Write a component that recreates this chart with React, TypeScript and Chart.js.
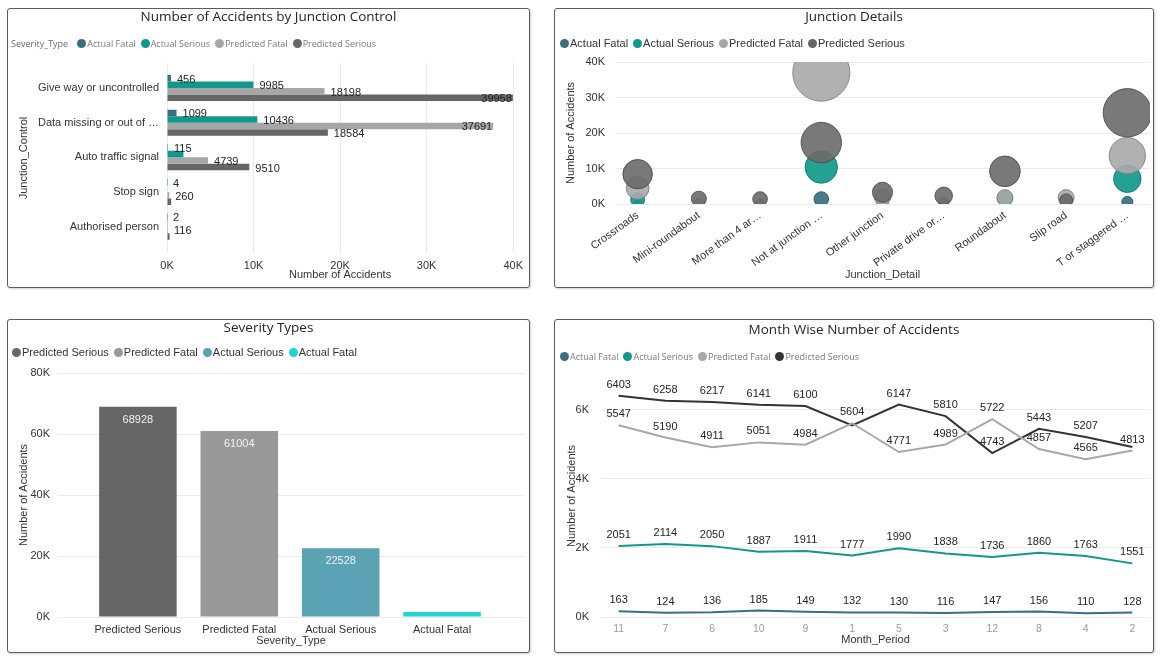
import React, { useEffect, useRef } from 'react';
import { Chart, registerables } from 'chart.js';

Chart.register(...registerables);

// ---------- shared ----------
const seriesNames = ['Actual Fatal', 'Actual Serious', 'Predicted Fatal', 'Predicted Serious'];

// ---------- chart 1 : Number of Accidents by Junction Control ----------
const junctionControls = [
  'Give way or uncontrolled',
  'Data missing or out of …',
  'Auto traffic signal',
  'Stop sign',
  'Authorised person',
];
const jcActualFatal = [456, 1099, 115, 4, 2];
const jcActualSerious = [9985, 10436, 1900, 60, 25];
const jcPredictedFatal = [18198, 37691, 4739, 260, 116];
const jcPredictedSerious = [39958, 18584, 9510, 480, 300];
const jcTicks = [0, 10000, 20000, 30000, 40000];

// ---------- chart 2 : Junction Details ----------
const junctionDetails = [
  'Crossroads',
  'Mini-roundabout',
  'More than 4 ar…',
  'Not at junction …',
  'Other junction',
  'Private drive or…',
  'Roundabout',
  'Slip road',
  'T or staggered …',
];
const jdActualFatal = [150, 40, 30, 1400, 80, 50, 100, 26, 600];
const jdActualSerious = [1200, 300, 200, 10400, 800, 400, 1600, 300, 7100];
const jdPredictedFatal = [4500, 300, 200, 37000, 1900, 300, 1800, 1800, 13600];
const jdPredictedSerious = [8400, 1500, 1400, 17300, 3300, 2300, 9200, 1000, 25700];
const jdTicks = [0, 10000, 20000, 30000, 40000];

// ---------- chart 3 : Severity Types ----------
const severityTypes = ['Predicted Serious', 'Predicted Fatal', 'Actual Serious', 'Actual Fatal'];
const severityTotals = [68928, 61004, 22528, 1676];
const sevTicks = [0, 20000, 40000, 60000, 80000];

// ---------- chart 4 : Month Wise Number of Accidents ----------
const months = ['11', '7', '6', '10', '9', '1', '5', '3', '12', '8', '4', '2'];
const mActualFatal = [163, 124, 136, 185, 149, 132, 130, 116, 147, 156, 110, 128];
const mActualSerious = [2051, 2114, 2050, 1887, 1911, 1777, 1990, 1838, 1736, 1860, 1763, 1551];
const mPredictedFatal = [5547, 5190, 4911, 5051, 4984, 5604, 4771, 4989, 5722, 4857, 4565, 4813];
const mPredictedSerious = [6403, 6258, 6217, 6141, 6100, 5540, 6147, 5810, 4743, 5443, 5207, 4919];
const monthTicks = [0, 2000, 4000, 6000];

// ---------- styles ----------
const FONT = '"Liberation Sans", Arial, sans-serif';
const TITLE_FONT = '"Open Sans", "Noto Sans", sans-serif';
const GRID = '#ebebeb';
const TEXT = '#333333';

const pal1 = ['#3b6f80', '#10998b', '#a6a6a6', '#666666'];
const pal2 = ['rgba(59,111,128,0.92)', 'rgba(16,153,139,0.92)', 'rgba(168,168,168,0.9)', 'rgba(106,106,106,0.9)'];
const pal2Border = ['rgba(40,80,95,0.8)', 'rgba(10,110,100,0.8)', 'rgba(120,120,120,0.8)', 'rgba(70,70,70,0.85)'];
const pal3 = ['#666666', '#999999', '#5aa2b4', '#22d3d0'];
const pal4 = ['#3b6e7e', '#15968a', '#a8a8a8', '#333333'];

const kFmt = (v: number) => `${v / 1000}K`;
const font11 = { family: FONT, size: 11 };

// bubble size grows with the square root of the value
const bubbleRadius = (v: number) => 2.2 + 0.137 * Math.sqrt(v);

// value labels drawn with overlap hiding (like Power BI)
function makeLabelPlugin(mode: 'hbar' | 'vbar' | 'line') {
  return {
    id: 'valueLabels_' + mode,
    afterDatasetsDraw(chart: any) {
      const ctx = chart.ctx;
      const area = chart.chartArea;
      const boxes: { l: number; r: number; t: number; b: number }[] = [];
      ctx.save();
      ctx.font = `11px ${FONT}`;
      ctx.textBaseline = 'middle';
      chart.data.datasets.forEach((ds: any, di: number) => {
        const meta = chart.getDatasetMeta(di);
        meta.data.forEach((el: any, i: number) => {
          const raw = ds.data[i];
          const v = mode === 'hbar' ? raw.x : raw.y;
          const text = String(v);
          const w = ctx.measureText(text).width;
          const h = 11;
          let x = 0;
          let y = 0;
          let align: CanvasTextAlign = 'left';
          let color = '#252423';
          let l = 0;
          if (mode === 'hbar') {
            y = el.y + 1.5;
            if (el.x + 6 + w > area.right) {
              align = 'right';
              x = el.x - 1;
              l = x - w;
            } else {
              align = 'left';
              x = el.x + 6;
              l = x;
            }
          } else if (mode === 'vbar') {
            if (el.base - el.y < 24) return;
            align = 'center';
            x = el.x;
            y = el.y + 13;
            l = x - w / 2;
            color = '#f2f2f2';
          } else {
            align = 'center';
            x = el.x;
            y = el.y - 11;
            l = x - w / 2;
          }
          const box = { l, r: l + w, t: y - h / 2, b: y + h / 2 };
          if (boxes.some((o) => box.l < o.r && box.r > o.l && box.t < o.b && box.b > o.t)) return;
          boxes.push(box);
          ctx.fillStyle = color;
          ctx.textAlign = align;
          ctx.fillText(text, x, y);
        });
      });
      ctx.restore();
    },
  };
}

// clip the bubbles to the plot area (Power BI cuts them at the axis lines)
const areaClipPlugin = {
  id: 'areaClip',
  beforeDatasetsDraw(chart: any) {
    const { ctx, chartArea } = chart;
    ctx.save();
    ctx.beginPath();
    ctx.rect(chartArea.left, chartArea.top, chartArea.right - chartArea.left, chartArea.bottom - chartArea.top);
    ctx.clip();
  },
  afterDatasetsDraw(chart: any) {
    chart.ctx.restore();
  },
};

const indexTicks = (labels: string[]) => (s: any) => {
  s.ticks = labels.map((_, i) => ({ value: i }));
};
const valueTicks = (vals: number[]) => (s: any) => {
  s.ticks = vals.map((v) => ({ value: v }));
};

const baseOptions = {
  animation: false,
  responsive: true,
  maintainAspectRatio: false,
  events: [],
};

// ---------- configs ----------
function configJunctionControl(): any {
  const series = [jcActualFatal, jcActualSerious, jcPredictedFatal, jcPredictedSerious];
  return {
    type: 'bar',
    data: {
      datasets: series.map((vals, si) => ({
        label: seriesNames[si],
        data: vals.map((v, i) => ({ x: v, y: i })),
        backgroundColor: pal1[si],
        categoryPercentage: 0.75,
        barPercentage: 1,
      })),
    },
    options: {
      ...baseOptions,
      indexAxis: 'y',
      layout: { autoPadding: false, padding: { left: 9, right: 12, top: 54, bottom: 5 } },
      plugins: { legend: { display: false }, tooltip: { enabled: false } },
      scales: {
        x: {
          type: 'linear',
          min: 0,
          max: 40000,
          afterBuildTicks: valueTicks(jcTicks),
          ticks: { callback: (v: number) => kFmt(v), font: font11, color: TEXT, padding: 6, maxRotation: 0 },
          grid: { color: GRID, drawTicks: false },
          border: { display: false },
          title: { display: true, text: 'Number of Accidents', font: font11, color: TEXT, padding: 0 },
          afterFit: (s: any) => {
            s.height = 29;
          },
        },
        y: {
          type: 'linear',
          reverse: true,
          offset: false,
          min: -0.72,
          max: 4.76,
          afterBuildTicks: indexTicks(junctionControls),
          ticks: { callback: (v: number) => junctionControls[v], font: font11, color: TEXT, padding: 8, autoSkip: false },
          grid: { display: false, drawTicks: false, offset: false },
          border: { display: false },
          title: { display: true, text: 'Junction_Control', font: font11, color: TEXT, padding: 0 },
          afterFit: (s: any) => {
            s.width = 150;
          },
        },
      },
    },
    plugins: [makeLabelPlugin('hbar')],
  };
}

function configJunctionDetail(): any {
  const series = [jdActualFatal, jdActualSerious, jdPredictedFatal, jdPredictedSerious];
  const order = [3, 2, 1, 0];
  return {
    type: 'bubble',
    data: {
      datasets: series.map((vals, si) => ({
        label: seriesNames[si],
        data: vals.map((v, i) => ({ x: i, y: v })),
        backgroundColor: pal2[si],
        borderColor: pal2Border[si],
        borderWidth: 1,
        radius: (c: any) => bubbleRadius(c.raw ? c.raw.y : 0),
        order: order[si],
        clip: 0,
      })),
    },
    options: {
      ...baseOptions,
      layout: { autoPadding: false, padding: { left: 9, right: 3, top: 53, bottom: 5 } },
      plugins: { legend: { display: false }, tooltip: { enabled: false } },
      scales: {
        x: {
          type: 'linear',
          offset: false,
          min: -0.37,
          max: 8.37,
          afterBuildTicks: indexTicks(junctionDetails),
          ticks: {
            callback: (v: number) => junctionDetails[v],
            font: font11,
            color: TEXT,
            padding: 5,
            autoSkip: false,
            minRotation: 36,
            maxRotation: 36,
          },
          grid: { display: false, drawTicks: false },
          border: { display: false },
          title: { display: true, text: 'Junction_Detail', font: font11, color: TEXT, padding: 0 },
          afterFit: (s: any) => {
            s.height = 78;
          },
        },
        y: {
          type: 'linear',
          min: 0,
          max: 40000,
          afterBuildTicks: valueTicks(jdTicks),
          ticks: { callback: (v: number) => kFmt(v), font: font11, color: TEXT, padding: 10 },
          grid: { color: GRID, drawTicks: false },
          border: { display: false },
          title: { display: true, text: 'Number of Accidents', font: font11, color: TEXT, padding: 0 },
          afterFit: (s: any) => {
            s.width = 51;
          },
        },
      },
    },
    plugins: [areaClipPlugin],
  };
}

function configSeverity(): any {
  return {
    type: 'bar',
    data: {
      datasets: [
        {
          label: 'Number of Accidents',
          data: severityTotals.map((v, i) => ({ x: i, y: v })),
          backgroundColor: pal3,
          categoryPercentage: 0.765,
          barPercentage: 1,
        },
      ],
    },
    options: {
      ...baseOptions,
      layout: { autoPadding: false, padding: { left: 9, right: 5, top: 53, bottom: 4 } },
      plugins: { legend: { display: false }, tooltip: { enabled: false } },
      scales: {
        x: {
          type: 'linear',
          offset: false,
          min: -0.788,
          max: 3.808,
          afterBuildTicks: indexTicks(severityTypes),
          ticks: { callback: (v: number) => severityTypes[v], font: font11, color: TEXT, padding: 6, autoSkip: false, maxRotation: 0 },
          grid: { display: false, drawTicks: false, offset: false },
          border: { display: false },
          title: { display: true, text: 'Severity_Type', font: font11, color: TEXT, padding: 0 },
          afterFit: (s: any) => {
            s.height = 31;
          },
        },
        y: {
          type: 'linear',
          min: 0,
          max: 80000,
          afterBuildTicks: valueTicks(sevTicks),
          ticks: { callback: (v: number) => kFmt(v), font: font11, color: TEXT, padding: 8 },
          grid: { color: GRID, drawTicks: false },
          border: { display: false },
          title: { display: true, text: 'Number of Accidents', font: font11, color: TEXT, padding: 0 },
          afterFit: (s: any) => {
            s.width = 41;
          },
        },
      },
    },
    plugins: [makeLabelPlugin('vbar')],
  };
}

function configMonths(): any {
  const series = [mActualFatal, mActualSerious, mPredictedFatal, mPredictedSerious];
  return {
    type: 'line',
    data: {
      datasets: series.map((vals, si) => ({
        label: seriesNames[si],
        data: vals.map((v, i) => ({ x: i, y: v })),
        borderColor: pal4[si],
        backgroundColor: pal4[si],
        borderWidth: 2,
        pointRadius: 0,
        tension: 0,
        fill: false,
      })),
    },
    options: {
      ...baseOptions,
      layout: { autoPadding: false, padding: { left: 10, right: 3, top: 55, bottom: 5 } },
      plugins: { legend: { display: false }, tooltip: { enabled: false } },
      scales: {
        x: {
          type: 'linear',
          offset: false,
          min: -0.378,
          max: 11.378,
          afterBuildTicks: indexTicks(months),
          ticks: { callback: (v: number) => months[v], font: { family: FONT, size: 10.5 }, color: '#9a9a9a', padding: 6, autoSkip: false, maxRotation: 0 },
          grid: { display: false, drawTicks: false },
          border: { display: false },
          title: { display: true, text: 'Month_Period', font: font11, color: TEXT, padding: 0 },
          afterFit: (s: any) => {
            s.height = 30;
          },
        },
        y: {
          type: 'linear',
          min: 0,
          max: 7000,
          afterBuildTicks: valueTicks(monthTicks),
          ticks: { callback: (v: number) => kFmt(v), font: font11, color: TEXT, padding: 12 },
          grid: { color: GRID, drawTicks: false },
          border: { display: false },
          title: { display: true, text: 'Number of Accidents', font: font11, color: TEXT, padding: 0 },
          afterFit: (s: any) => {
            s.width = 36;
          },
        },
      },
    },
    plugins: [makeLabelPlugin('line')],
  };
}

// ---------- components ----------
function ChartCanvas({ make }: { make: () => any }) {
  const ref = useRef<HTMLCanvasElement>(null);
  useEffect(() => {
    const chart = new Chart(ref.current as HTMLCanvasElement, make());
    return () => chart.destroy();
  }, []);
  return (
    <div style={{ position: 'absolute', left: 0, top: 0, right: 0, bottom: 0 }}>
      <canvas ref={ref} />
    </div>
  );
}

type LegendProps = {
  items: string[];
  colors: string[];
  prefix?: string;
  font: string;
  color: string;
  dot: number;
};

function Legend({ items, colors, prefix, font, color, dot }: LegendProps) {
  return (
    <div style={{ display: 'flex', alignItems: 'center', whiteSpace: 'nowrap', font, color, height: 16 }}>
      {prefix ? <span style={{ marginRight: 9, color: '#6a6a6a' }}>{prefix}</span> : null}
      {items.map((t, i) => (
        <span key={i} style={{ display: 'flex', alignItems: 'center', marginRight: 5 }}>
          <span
            style={{
              display: 'inline-block',
              width: dot,
              height: dot,
              borderRadius: '50%',
              background: colors[i],
              marginRight: 1,
            }}
          />
          {t}
        </span>
      ))}
    </div>
  );
}

type PanelProps = {
  x: number;
  y: number;
  w: number;
  h: number;
  title: string;
  titleY: number;
  legendX: number;
  legendY: number;
  legend: React.ReactNode;
  children: React.ReactNode;
};

function Panel({ x, y, w, h, title, titleY, legendX, legendY, legend, children }: PanelProps) {
  return (
    <div
      style={{
        position: 'absolute',
        left: x,
        top: y,
        width: w,
        height: h,
        boxSizing: 'border-box',
        border: '1px solid #5c5c5c',
        borderRadius: 3,
        boxShadow: '1px 1px 2px rgba(0,0,0,0.18)',
        background: '#ffffff',
      }}
    >
      {children}
      <div
        style={{
          position: 'absolute',
          left: 0,
          right: 0,
          top: titleY - y - 1 - 10,
          height: 20,
          lineHeight: '20px',
          textAlign: 'center',
          font: `13.5px ${TITLE_FONT}`,
          color: '#252423',
          whiteSpace: 'nowrap',
        }}
      >
        {title}
      </div>
      <div style={{ position: 'absolute', left: legendX - x - 1, top: legendY - y - 1 - 8 }}>{legend}</div>
    </div>
  );
}

export default function App() {
  const smallLegendFont = `9px ${TITLE_FONT}`;
  const darkLegendFont = `11px ${FONT}`;
  return (
    <div
      style={{
        position: 'fixed',
        left: 0,
        top: 0,
        width: 1162,
        height: 664,
        background: '#ffffff',
        overflow: 'hidden',
      }}
    >
      <Panel
        x={7}
        y={8}
        w={523}
        h={280}
        title="Number of Accidents by Junction Control"
        titleY={17}
        legendX={11}
        legendY={43}
        legend={
          <Legend
            prefix="Severity_Type"
            items={seriesNames}
            colors={pal1}
            font={smallLegendFont}
            color="#7a7a7a"
            dot={9}
          />
        }
      >
        <ChartCanvas make={configJunctionControl} />
      </Panel>

      <Panel
        x={554}
        y={8}
        w={600}
        h={280}
        title="Junction Details"
        titleY={17}
        legendX={560}
        legendY={43}
        legend={<Legend items={seriesNames} colors={pal1} font={darkLegendFont} color="#333333" dot={9} />}
      >
        <ChartCanvas make={configJunctionDetail} />
      </Panel>

      <Panel
        x={7}
        y={319}
        w={523}
        h={334}
        title="Severity Types"
        titleY={328}
        legendX={12}
        legendY={352}
        legend={<Legend items={severityTypes} colors={pal3} font={darkLegendFont} color="#333333" dot={9} />}
      >
        <ChartCanvas make={configSeverity} />
      </Panel>

      <Panel
        x={554}
        y={319}
        w={600}
        h={334}
        title="Month Wise Number of Accidents"
        titleY={330}
        legendX={560}
        legendY={356}
        legend={<Legend items={seriesNames} colors={pal4} font={smallLegendFont} color="#7a7a7a" dot={9} />}
      >
        <ChartCanvas make={configMonths} />
      </Panel>
    </div>
  );
}
